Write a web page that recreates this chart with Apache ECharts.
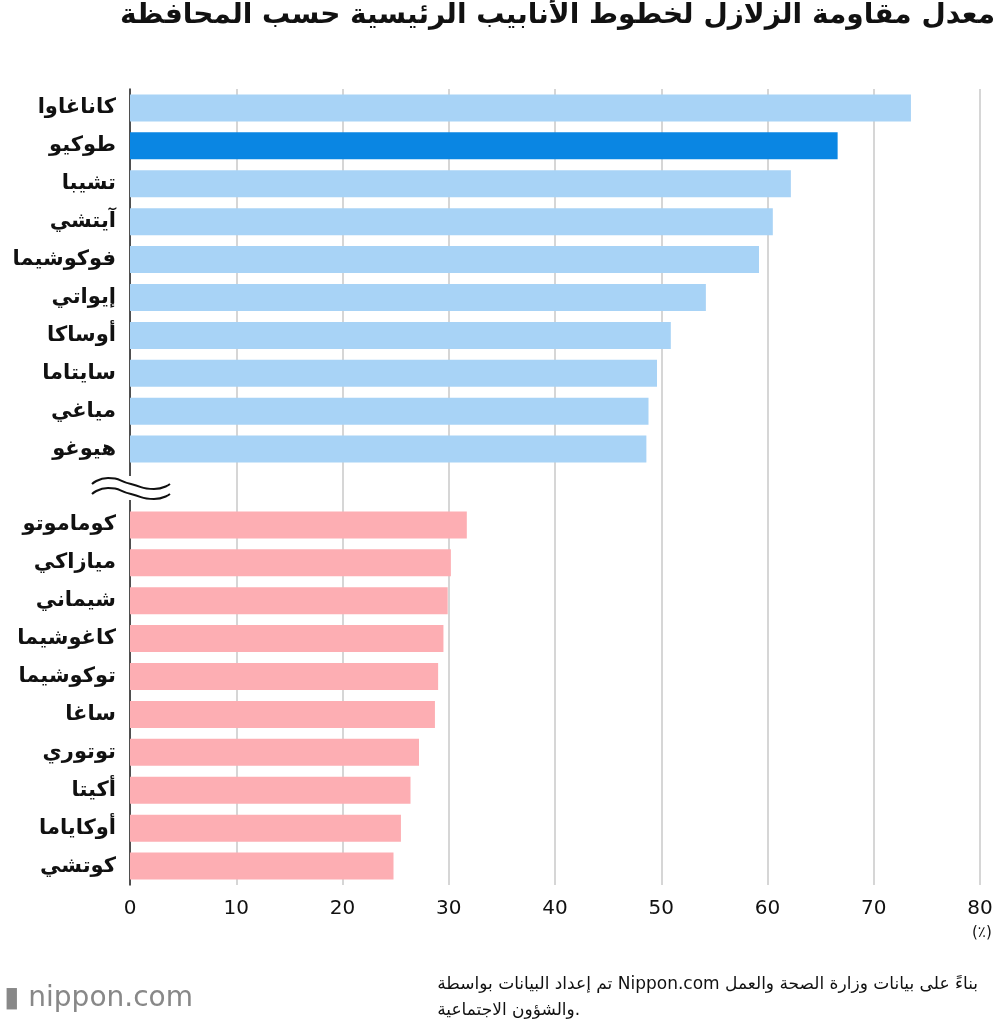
<!DOCTYPE html>
<html><head><meta charset="utf-8">
<script src="https://cdn.jsdelivr.net/npm/echarts@6/dist/echarts.min.js"></script>
<style>html,body{margin:0;padding:0;background:#fff}#c{width:1000px;height:1028px}</style>
</head><body><div id="c"></div>
<script>
const categories = ["كاناغاوا","طوكيو","تشيبا","آيتشي","فوكوشيما","إيواتي","أوساكا","سايتاما","مياغي","هيوغو","","كوماموتو","ميازاكي","شيماني","كاغوشيما","توكوشيما","ساغا","توتوري","أكيتا","أوكاياما","كوتشي"];
const values = [73.5,66.6,62.2,60.5,59.2,54.2,50.9,49.6,48.8,48.6,null,31.7,30.2,29.9,29.5,29.0,28.7,27.2,26.4,25.5,24.8];
const groups = ["top","top","top","top","top","top","top","top","top","top","none","low","low","low","low","low","low","low","low","low","low"];
const xTicks = [0,10,20,30,40,50,60,70,80];
const colors = {top:"#a8d3f6", low:"#fdaeb3", tokyo:"#0a86e3"};
const F = "DejaVu Sans";
const chart = echarts.init(document.getElementById('c'));
function wave(y){return {type:'polyline',shape:{points:[[92,y+6],[108,y],[131,y+6],[154,y+11],[170,y+6]],smooth:0.6},style:{fill:null,stroke:'#111',lineWidth:2},z:100};}
chart.setOption({
  animation:false,
  grid:{left:130,right:20,top:89,bottom:143},
  xAxis:{type:'value',min:xTicks[0],max:xTicks[xTicks.length-1],interval:10,
    axisLabel:{fontFamily:F,fontSize:20,color:'#111',margin:14},
    splitLine:{lineStyle:{color:'#c8c8c8',width:1.5}},axisLine:{show:false},axisTick:{show:false}},
  yAxis:{type:'category',data:categories,inverse:true,
    axisLine:{lineStyle:{color:'#222',width:1.5}},axisTick:{show:false},
    axisLabel:{fontFamily:F,fontSize:21,fontWeight:'bold',color:'#111',margin:14}},
  series:[{type:'bar',barWidth:27,
    data:values.map((v,i)=>({value:v,itemStyle:{color:i===1?colors.tokyo:(colors[groups[i]]||'#fff')}}))}],
  graphic:[
    {type:'text',right:5,top:2,style:{text:'معدل مقاومة الزلازل لخطوط الأنابيب الرئيسية حسب المحافظة',font:'bold 28px '+F,fill:'#111'}},
    {type:'rect',shape:{x:92,y:476,width:78,height:24},style:{fill:'#fff'},z:99},
    wave(478), wave(488),
    {type:'text',left:972,top:926,style:{text:'(٪)',font:'15px '+F,fill:'#111'}},
    {type:'text',right:22,top:972,style:{text:'تم إعداد البيانات بواسطة Nippon.com بناءً على بيانات وزارة الصحة والعمل\nوالشؤون الاجتماعية.',font:'17px '+F,fill:'#111',align:'right',lineHeight:26}},
    {type:'text',left:4,top:985,style:{text:'▮ nippon.com',font:'28px '+F,fill:'#888'}}
  ]
});
</script></body></html>
